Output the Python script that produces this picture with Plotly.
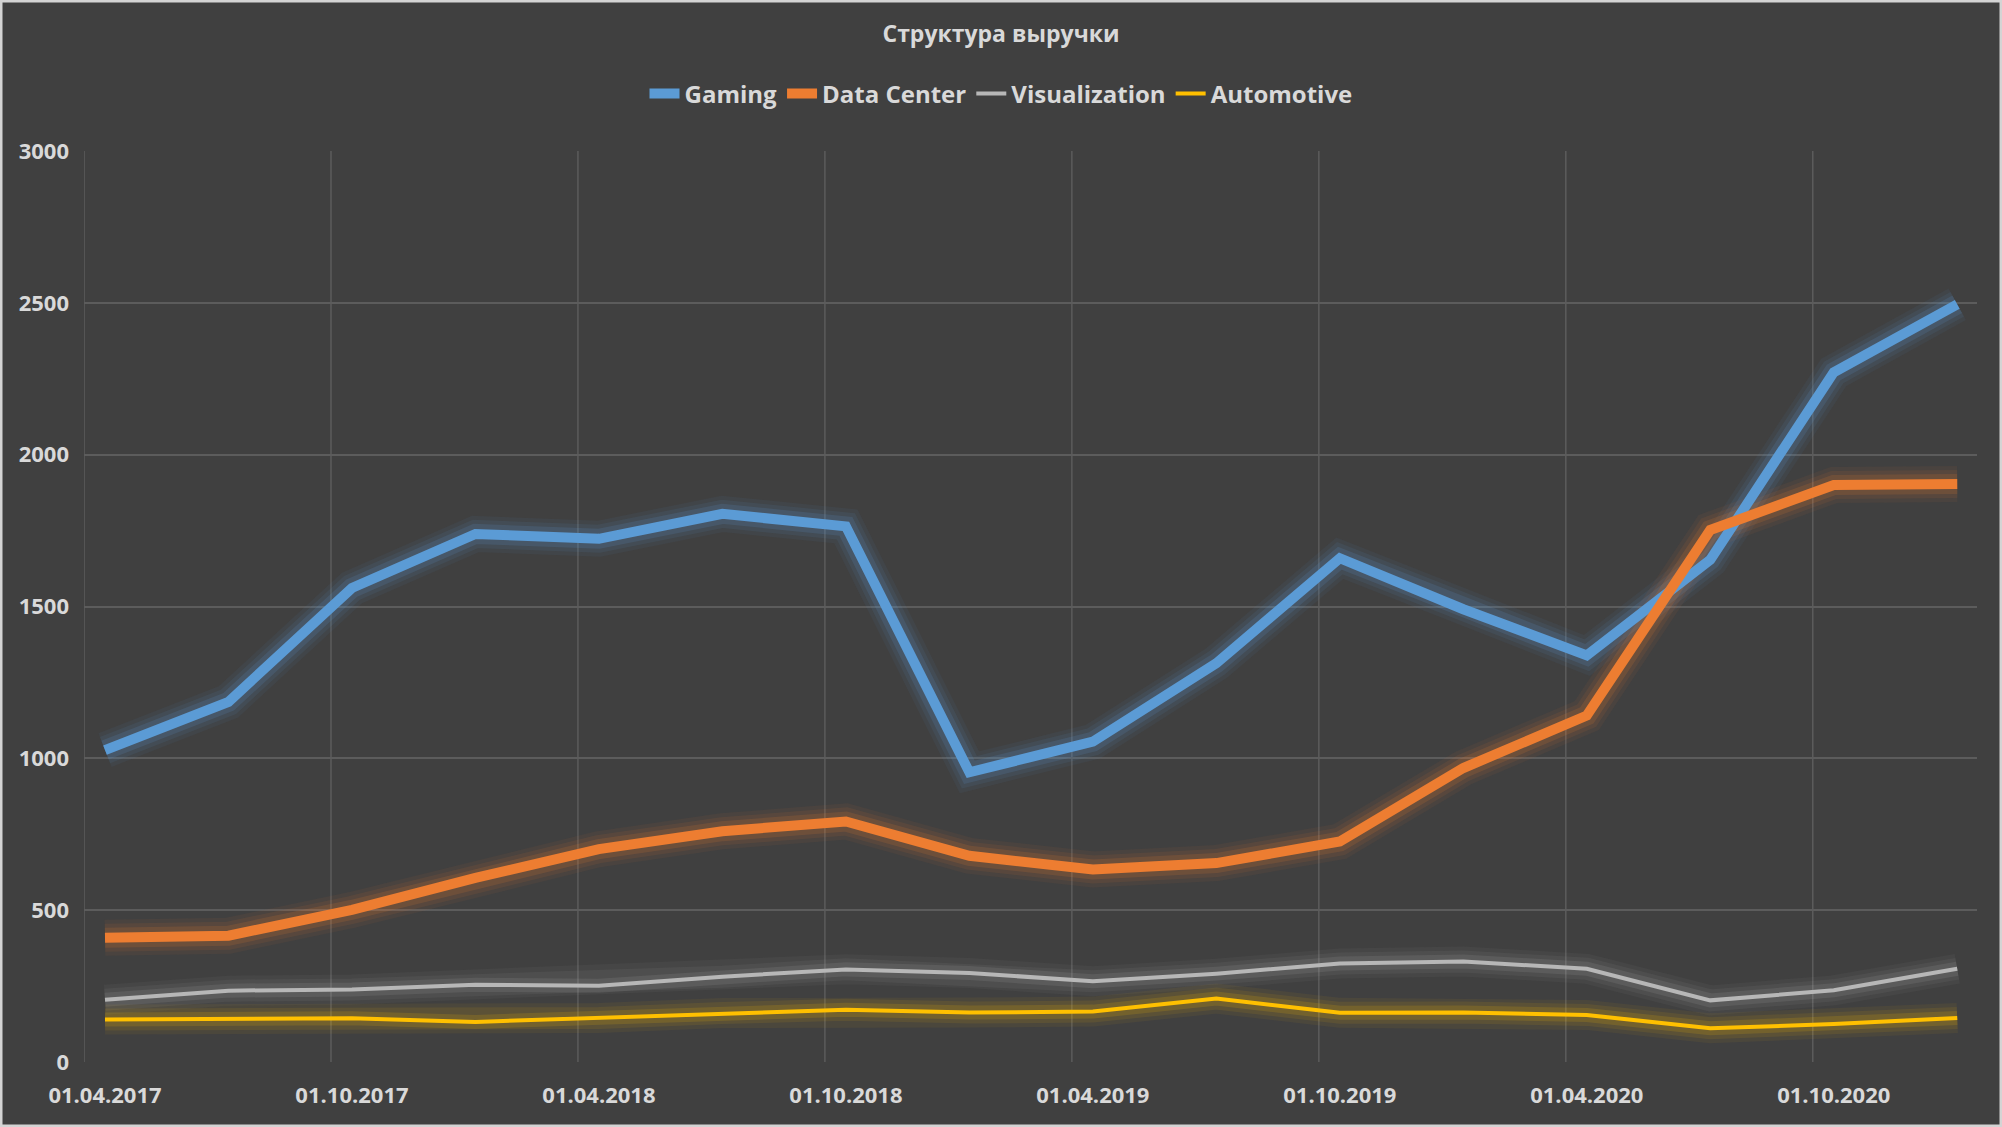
import plotly.graph_objects as go

dates = ["01.04.2017", "01.07.2017", "01.10.2017", "01.01.2018",
         "01.04.2018", "01.07.2018", "01.10.2018", "01.01.2019",
         "01.04.2019", "01.07.2019", "01.10.2019", "01.01.2020",
         "01.04.2020", "01.07.2020", "01.10.2020", "01.01.2021"]
gaming = [1027, 1186, 1561, 1739, 1723, 1805, 1764, 954,
          1055, 1313, 1659, 1491, 1339, 1654, 2271, 2495]
data_center = [409, 416, 501, 606, 701, 760, 792, 679,
               634, 655, 726, 968, 1141, 1752, 1900, 1903]
visualization = [205, 235, 239, 254, 251, 281, 305, 293,
                 266, 291, 324, 331, 307, 203, 236, 307]
automotive = [140, 142, 144, 132, 145, 161, 172, 163,
              166, 209, 162, 163, 155, 111, 125, 145]
y_ticks = [0, 500, 1000, 1500, 2000, 2500, 3000]

W, H = 2002, 1127
ML, MR, MT, MB = 84, 25, 151, 65
PW, PH = W - ML - MR, H - MT - MB

BG = "#404040"
GRID = "#5c5c5c"
TXT = "#d9d9d9"
FONT = "Open Sans"

x = list(range(len(dates)))

series = [
    ("Gaming", gaming, "#5B9BD5", 10, "rgba(91,155,213,{a})"),
    ("Data Center", data_center, "#ED7D31", 10, "rgba(237,125,49,{a})"),
    ("Visualization", visualization, "#B7B7B7", 4, "rgba(165,165,165,{a})"),
    ("Automotive", automotive, "#FFC000", 4, "rgba(255,192,0,{a})"),
]

fig = go.Figure()

# glow layers
for name, vals, col, w, rgba in series:
    for extra, a in [(26, 0.06), (18, 0.09), (10, 0.15)]:
        fig.add_trace(go.Scatter(
            x=x, y=vals, mode="lines", showlegend=False, hoverinfo="skip",
            line=dict(color=rgba.format(a=a), width=w + extra, shape="linear"),
        ))

for name, vals, col, w, rgba in series:
    fig.add_trace(go.Scatter(
        x=x, y=vals, mode="lines", name=name,
        line=dict(color=col, width=w),
    ))

# vertical gridlines (between categories)
shapes = []
off = -0.17
for k in range(0, 16, 2):
    shapes.append(dict(type="line", xref="x", yref="y", x0=k + off, x1=k + off,
                       y0=0, y1=3000, line=dict(color=GRID, width=1.5), layer="below"))
# outer border
shapes.append(dict(type="rect", xref="paper", yref="paper",
                   x0=-ML / PW, x1=1 + MR / PW, y0=-MB / PH, y1=1 + MT / PH,
                   line=dict(color="#d4d4d4", width=5), layer="above"))

fig.update_layout(
    width=W, height=H,
    margin=dict(l=ML, r=MR, t=MT, b=MB, autoexpand=False),
    paper_bgcolor=BG, plot_bgcolor=BG,
    font=dict(family=FONT, color=TXT, size=22),
    title=dict(text="<b>Структура выручки</b>", x=(W / 2 - ML) / PW, xref="paper",
               xanchor="center", y=1 - 34 / H, yanchor="middle",
               font=dict(size=23, color=TXT)),
    legend=dict(orientation="h", x=(W / 2 - ML) / PW, xanchor="center",
                y=1 + (MT - 94) / PH, yanchor="middle",
                font=dict(size=24, color=TXT, weight="bold"),
                itemwidth=30, tracegroupgap=0, bgcolor="rgba(0,0,0,0)"),
    shapes=shapes,
    showlegend=True,
)

fig.update_xaxes(
    range=[off, 15.16], tickmode="array",
    tickvals=x[::2], ticktext=dates[::2], tickangle=0,
    showgrid=False, zeroline=False, showline=False, ticks="",
    tickfont=dict(size=22, color=TXT, weight="bold"),
    ticklabelstandoff=18,
)
fig.update_yaxes(
    range=[0, 3000], tickmode="array", tickvals=y_ticks,
    ticktext=[str(v) for v in y_ticks],
    showgrid=True, gridcolor=GRID, gridwidth=1.5, zeroline=False, showline=False,
    ticks="", tickfont=dict(size=22, color=TXT, weight="bold"),
    ticklabelstandoff=14,
)

fig.write_html("out.html")
